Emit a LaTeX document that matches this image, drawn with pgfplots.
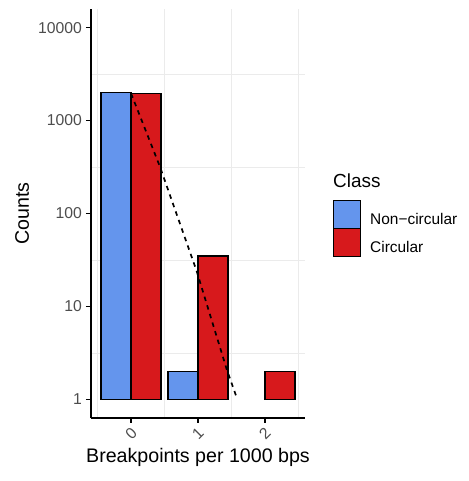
\documentclass[border=0pt]{standalone}
\usepackage{fontspec}
\setmainfont{Liberation Sans}
\usepackage{pgfplots}
\pgfplotsset{compat=1.18}
\definecolor{noncirc}{HTML}{6495ED}
\definecolor{circ}{HTML}{D7191C}
\definecolor{gridgrey}{HTML}{EBEBEB}
\definecolor{ticktext}{HTML}{4D4D4D}
% square legend keys that touch each other
\pgfplotsset{keybox/.style={legend image code/.code={%
  \draw[##1, line width=1.6bp] (0bp,-8.3bp) rectangle (27bp,19.7bp);}}}

\begin{document}
\begin{tikzpicture}
\useasboundingbox (0,0) rectangle (469bp,481bp);
\begin{axis}[
  at={(91bp,63bp)}, anchor=south west,
  scale only axis, width=214bp, height=409bp,
  xmin=-0.6, xmax=2.6,
  ymode=log, ymin=0.631, ymax=15849, log origin=0,
  axis x line=bottom, axis y line=left,
  axis line style={-, line width=1.6bp, black},
  xtick={0,1,2}, xticklabels={0,1,2},
  ytick={1,10,100,1000,10000}, yticklabels={1,10,100,1000,10000},
  minor xtick={-0.5,0.5,1.5,2.5},
  minor ytick={3.1623,31.623,316.23,3162.3},
  xminorgrids, yminorgrids,
  minor grid style={gridgrey, line width=0.8bp},
  minor tick length=0pt,
  tick align=outside, major tick length=5bp,
  major tick style={line width=1.4bp, black},
  tick label style={font=\fontsize{15.8}{18}\selectfont, text=ticktext, inner sep=0pt},
  yticklabel style={anchor=east, xshift=-4bp},
  xticklabel style={yshift=-11bp, rotate=45, anchor=center},
  xlabel={Breakpoints per 1000 bps},
  xlabel style={at={(axis description cs:0.5,-0.110)}, anchor=base, inner sep=0pt,
    font=\fontsize{19.7}{23}\selectfont},
  ylabel={Counts},
  ylabel style={at={(axis description cs:-0.3224,0.5)}, anchor=center, inner sep=0pt,
    font=\fontsize{19.7}{23}\selectfont},
  legend style={at={(axis description cs:1.1280,0.5347)}, anchor=north west,
    draw=none, fill=none, inner sep=0pt, row sep=-1.6bp,
    nodes={inner sep=0pt}, cells={anchor=west},
    font=\fontsize{15.5}{18}\selectfont,
    /tikz/every odd column/.append style={column sep=9bp}},
]
% counts per class
\addplot[ybar, bar width=0.45, bar shift=-0.225, fill=noncirc, draw=black, line width=1.6bp, keybox]
  coordinates {(0,2010) (1,2)};
\addlegendentry{Non−circular}
\addplot[ybar, bar width=0.45, bar shift=0.225, fill=circ, draw=black, line width=1.6bp, keybox]
  coordinates {(0,1960) (1,35) (2,2)};
\addlegendentry{Circular}
% fitted trend
\addplot[forget plot, black, line width=1.7bp, dash pattern=on 4.5bp off 4.5bp]
  coordinates {(0,1950) (0.43,320) (0.98,24) (1.43,2.1) (1.58,1.04)};
\end{axis}
\node[anchor=base west, inner sep=0pt, font=\fontsize{19}{22}\selectfont] at (333bp,293bp) {Class};
\end{tikzpicture}
\end{document}
